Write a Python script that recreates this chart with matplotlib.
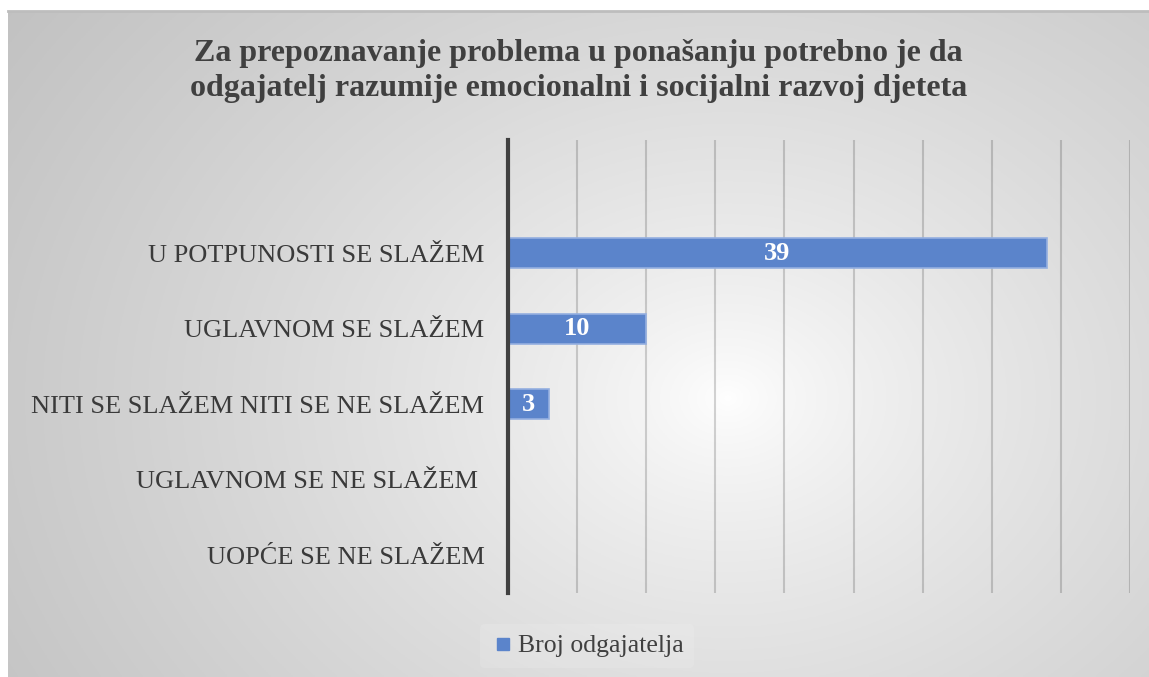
import numpy as np
import matplotlib
matplotlib.use("Agg")
import matplotlib.pyplot as plt
from matplotlib.lines import Line2D

categories = ["UOPĆE SE NE SLAŽEM", "UGLAVNOM SE NE SLAŽEM ", "NITI SE SLAŽEM NITI SE NE SLAŽEM",
              "UGLAVNOM SE SLAŽEM", "U POTPUNOSTI SE SLAŽEM"]
values = [0, 0, 3, 10, 39]
series_name = "Broj odgajatelja"
title = "Za prepoznavanje problema u ponašanju potrebno je da\nodgajatelj razumije emocionalni i socijalni razvoj djeteta"

plt.rcParams["font.family"] = ["Liberation Serif", "DejaVu Serif"]

W, H = 1149, 677
fig = plt.figure(figsize=(W / 100, H / 100), dpi=100)
fig.patch.set_facecolor("white")

# background radial gradient panel
bg = fig.add_axes([8 / W, 0, 1 - 8 / W, 1 - 11 / H])
bg.set_axis_off()
ny, nx = 300, 500
yy, xx = np.mgrid[0:ny, 0:nx]
cx, cy = 0.63 * nx, 0.58 * ny
r = np.sqrt(((xx - cx) / nx) ** 2 + ((yy - cy) / ny * 0.75) ** 2)
r = r / r.max()
g = 1.0 - 0.24 * np.clip(r, 0, 1) ** 0.75
bg.imshow(np.dstack([g, g, g]), aspect="auto", extent=[0, 1, 0, 1], origin="upper")
bg.set_xlim(0, 1); bg.set_ylim(0, 1)
bg.plot([0, 1], [1, 1], color="#bdbdbd", lw=2, transform=bg.transAxes, clip_on=False)

ax = fig.add_axes([508 / W, 1 - 593 / H, (1130 - 508) / W, (593 - 140) / H])
ax.patch.set_alpha(0)
y = np.arange(len(categories))
bars = ax.barh(y, values, height=0.4, color="#5b84cb", edgecolor="#94afe0", linewidth=1.2, zorder=3)
ax.set_xlim(0, 45)
ax.set_ylim(-0.5, 5.5)
ax.set_xticks(np.arange(0, 46, 5))
ax.set_xticklabels([])
ax.tick_params(axis="x", length=0)
ax.tick_params(axis="y", length=0, pad=17)
ax.set_yticks(y)
ax.set_yticklabels(categories, fontsize=19, color="#3a3a3a")
ax.grid(axis="x", color="black", alpha=0.17, lw=1.5, zorder=0)
for s in ["top", "right", "bottom"]:
    ax.spines[s].set_visible(False)
ax.spines["left"].set_color("#404040")
ax.spines["left"].set_linewidth(3)
ax.spines["left"].set_zorder(4)

for b, v in zip(bars, values):
    if v > 0:
        ax.text(b.get_width() / 2, b.get_y() + b.get_height() / 2, str(v), ha="center", va="center",
                color="white", fontsize=19, fontweight="bold", zorder=5)

fig.text(0.5 + 8 / W / 2, 1 - 71 / H, title, ha="center", va="center", fontsize=23,
         fontweight="bold", color="#404040", linespacing=1.3)

handle = Line2D([], [], marker="s", linestyle="none", markersize=9, color="#5b84cb")
leg = fig.legend([handle], [series_name], loc="center", bbox_to_anchor=(587 / W, 1 - 646 / H),
                 frameon=True, prop={"size": 18.5}, handletextpad=0.05,
                 handlelength=1.0, borderpad=0.4)
leg.get_frame().set_facecolor("white")
leg.get_frame().set_alpha(0.12)
leg.get_frame().set_edgecolor("none")
for t in leg.get_texts():
    t.set_color("#404040")

fig.savefig("out.png", dpi=100)
